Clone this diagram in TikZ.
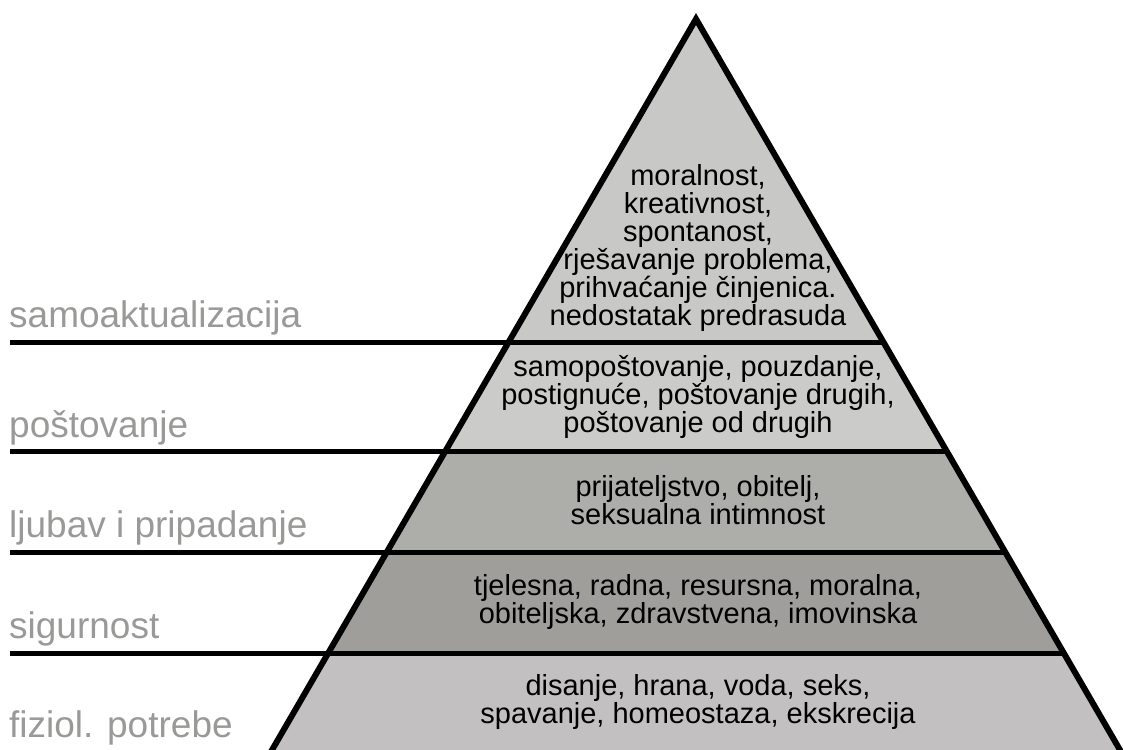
\documentclass[tikz,border=0pt]{standalone}
\usepackage{fontspec}
\setmainfont{Liberation Sans}
\definecolor{bandA}{HTML}{C8C9C7}
\definecolor{bandB}{HTML}{CBCCCA}
\definecolor{bandC}{HTML}{ADAEAA}
\definecolor{bandD}{HTML}{9F9E9A}
\definecolor{bandE}{HTML}{C2C0C1}
\definecolor{lblgray}{HTML}{999A98}

\begin{document}
\begin{tikzpicture}[x=1pt, y=-1pt,
  lbl/.style={anchor=base west, inner sep=0pt, text=lblgray, font=\fontsize{37}{40}\selectfont},
  lvl/.style={anchor=base, inner sep=0pt, align=center, font=\fontsize{29}{28}\selectfont},
  edge/.style={line width=6pt},
  rule/.style={line width=5pt}]
\useasboundingbox (0,0) rectangle (1123,749);
\clip (0,0) rectangle (1123,749);

\coordinate (apex) at (696,19);
\coordinate (l1) at (508.7,342);  \coordinate (r1) at (883.3,342);
\coordinate (l2) at (445.4,451);  \coordinate (r2) at (946.6,451);
\coordinate (l3) at (386.9,552);  \coordinate (r3) at (1005.1,552);
\coordinate (l4) at (328.3,653);  \coordinate (r4) at (1063.7,653);
\coordinate (l5) at (266.2,760);  \coordinate (r5) at (1125.8,760);
\coordinate (e1) at (10,342);
\coordinate (e2) at (10,451);
\coordinate (e3) at (10,552);
\coordinate (e4) at (10,653);

\fill[bandA] (apex) -- (r1) -- (l1) -- cycle;
\fill[bandB] (l1) -- (r1) -- (r2) -- (l2) -- cycle;
\fill[bandC] (l2) -- (r2) -- (r3) -- (l3) -- cycle;
\fill[bandD] (l3) -- (r3) -- (r4) -- (l4) -- cycle;
\fill[bandE] (l4) -- (r4) -- (r5) -- (l5) -- cycle;

\draw[rule] (e1) -- (r1);
\draw[rule] (e2) -- (r2);
\draw[rule] (e3) -- (r3);
\draw[rule] (e4) -- (r4);
\draw[edge] (l5) -- (apex) -- (r5);

% anchor=base sits on the last line
\node[lvl] (samo_t) at (698,325) {moralnost,\\kreativnost,\\spontanost,\\rješavanje problema,\\prihvaćanje činjenica.\\nedostatak predrasuda};
\node[lvl] (post_t) at (698,432) {samopoštovanje, pouzdanje,\\postignuće, poštovanje drugih,\\poštovanje od drugih};
\node[lvl] (ljub_t) at (698,524) {prijateljstvo, obitelj,\\seksualna intimnost};
\node[lvl] (sig_t) at (698,623) {tjelesna, radna, resursna, moralna,\\obiteljska, zdravstvena, imovinska};
\node[lvl] (fiz_t) at (698,723) {disanje, hrana, voda, seks,\\spavanje, homeostaza, ekskrecija};

\node[lbl] (samo) at (9,327) {samoaktualizacija};
\node[lbl] (post) at (9,437) {poštovanje};
\node[lbl] (ljub) at (9,537) {ljubav i pripadanje};
\node[lbl] (sig) at (9,638) {sigurnost};
\node[lbl] (fiz) at (9,737) {fiziol. potrebe};
\end{tikzpicture}
\end{document}
